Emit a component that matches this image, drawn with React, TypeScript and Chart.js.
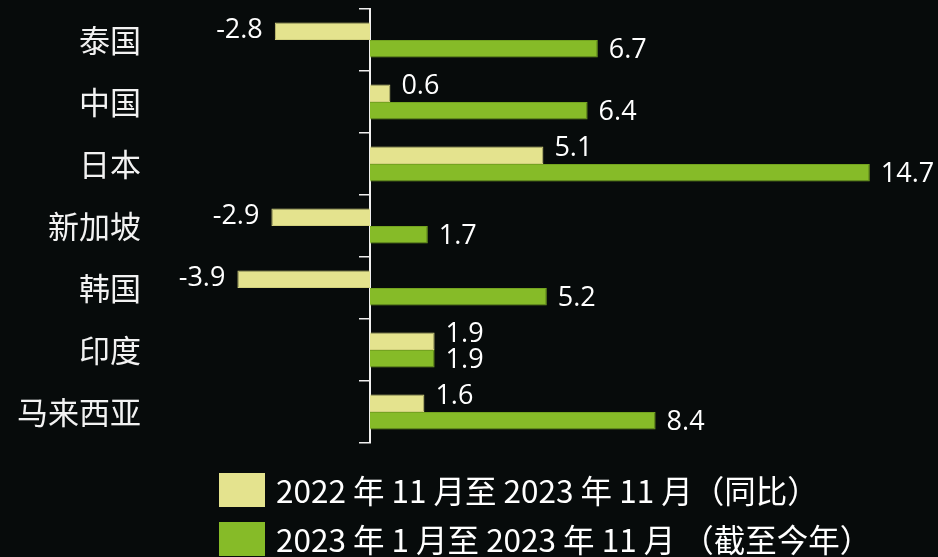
import React, { useEffect, useRef } from 'react';
import { Chart, registerables } from 'chart.js';

Chart.register(...registerables);

const categories = ['泰国', '中国', '日本', '新加坡', '韩国', '印度', '马来西亚'];
const yoyValues = [-2.8, 0.6, 5.1, -2.9, -3.9, 1.9, 1.6];
const ytdValues = [6.7, 6.4, 14.7, 1.7, 5.2, 1.9, 8.4];
const seriesNames = [
  '2022 年 11 月至 2023 年 11 月（同比）',
  '2023 年 1 月至 2023 年 11 月 （截至今年）',
];
const xMin = -5;
const xMax = 16;

const BG = '#070b0b';
const LIGHT = '#e4e38e';
const GREEN = '#86bb28';
const AXIS = '#f0f0f0';

const valueLabels = {
  id: 'valueLabels',
  afterDatasetsDraw(chart: any) {
    const ctx = chart.ctx;
    ctx.save();
    ctx.font = '27px "Open Sans", "Liberation Sans", sans-serif';
    ctx.fillStyle = '#ffffff';
    ctx.textBaseline = 'middle';
    chart.data.datasets.forEach((ds: any, di: number) => {
      const meta = chart.getDatasetMeta(di);
      meta.data.forEach((bar: any, i: number) => {
        const v = ds.data[i] as number;
        const { x, y } = bar.getProps(['x', 'y'], true);
        const neg = v < 0;
        ctx.textAlign = neg ? 'right' : 'left';
        const tx = neg ? x - 12 : x + 11;
        const dy = di === 0 ? (neg ? -1 : -7) : 2;
        ctx.fillText(v.toFixed(1), tx, y + dy);
      });
    });
    ctx.restore();
  },
};

const customLegend = {
  id: 'customLegend',
  afterDraw(chart: any) {
    const ctx = chart.ctx;
    const boxX = 219;
    const boxW = 46;
    const boxH = 34;
    const rowTops = [473, 522];
    const textX = 276;
    ctx.save();
    ctx.font = '31.5px "Noto Sans CJK SC", sans-serif';
    ctx.textBaseline = 'middle';
    ctx.textAlign = 'left';
    chart.data.datasets.forEach((ds: any, di: number) => {
      const top = rowTops[di];
      ctx.fillStyle = ds.backgroundColor;
      ctx.fillRect(boxX, top, boxW, boxH);
      ctx.fillStyle = '#ffffff';
      ctx.fillText(ds.label, textX, top + boxH / 2 + 1);
    });
    ctx.restore();
  },
};

export default function App() {
  const canvasRef = useRef<HTMLCanvasElement | null>(null);

  useEffect(() => {
    if (!canvasRef.current) return;
    const chart = new Chart(canvasRef.current, {
      type: 'bar',
      data: {
        labels: categories,
        datasets: [
          {
            label: seriesNames[0],
            data: yoyValues,
            backgroundColor: LIGHT,
            borderColor: '#d2d17e',
            borderWidth: 1,
            xAxisID: 'x',
            yAxisID: 'y',
          },
          {
            label: seriesNames[1],
            data: ytdValues,
            backgroundColor: GREEN,
            borderColor: '#74a420',
            borderWidth: 1,
            xAxisID: 'x',
            yAxisID: 'y',
          },
        ],
      },
      options: {
        indexAxis: 'y',
        responsive: false,
        animation: false,
        devicePixelRatio: 1,
        layout: { padding: { left: 0, right: 24, top: 9, bottom: 114 } },
        datasets: {
          bar: { barPercentage: 1, categoryPercentage: 0.565 },
        },
        plugins: {
          legend: { display: false },
          tooltip: { enabled: false },
        },
        scales: {
          x: {
            type: 'linear',
            min: xMin,
            max: xMax,
            display: false,
          },
          y: {
            type: 'category',
            position: 'left',
            offset: true,
            grid: {
              display: true,
              offset: true,
              drawOnChartArea: false,
              drawTicks: true,
              tickLength: 56,
              color: 'rgba(0,0,0,0)',
            },
            border: { display: false },
            ticks: {
              color: '#f2f2f2',
              padding: 3,
              font: { family: '"Noto Sans CJK SC", sans-serif', size: 31 },
            },
            afterFit(scale: any) {
              scale.width = 200;
              scale.paddingTop = 0;
              scale.paddingBottom = 0;
            },
          },
          y2: {
            type: 'category',
            axis: 'y',
            position: { x: 0 },
            offset: true,
            z: 1,
            grid: {
              display: true,
              offset: true,
              drawOnChartArea: false,
              drawTicks: true,
              tickLength: 10,
              color: AXIS,
              lineWidth: 1.5,
            },
            border: { display: true, color: AXIS, width: 2 },
            ticks: { display: false },
          },
        } as any,
      },
      plugins: [valueLabels, customLegend],
    });
    return () => chart.destroy();
  }, []);

  return (
    <div
      style={{
        position: 'fixed',
        left: 0,
        top: 0,
        width: 938,
        height: 557,
        background: BG,
      }}
    >
      <canvas ref={canvasRef} width={938} height={557} style={{ display: 'block' }} />
    </div>
  );
}
